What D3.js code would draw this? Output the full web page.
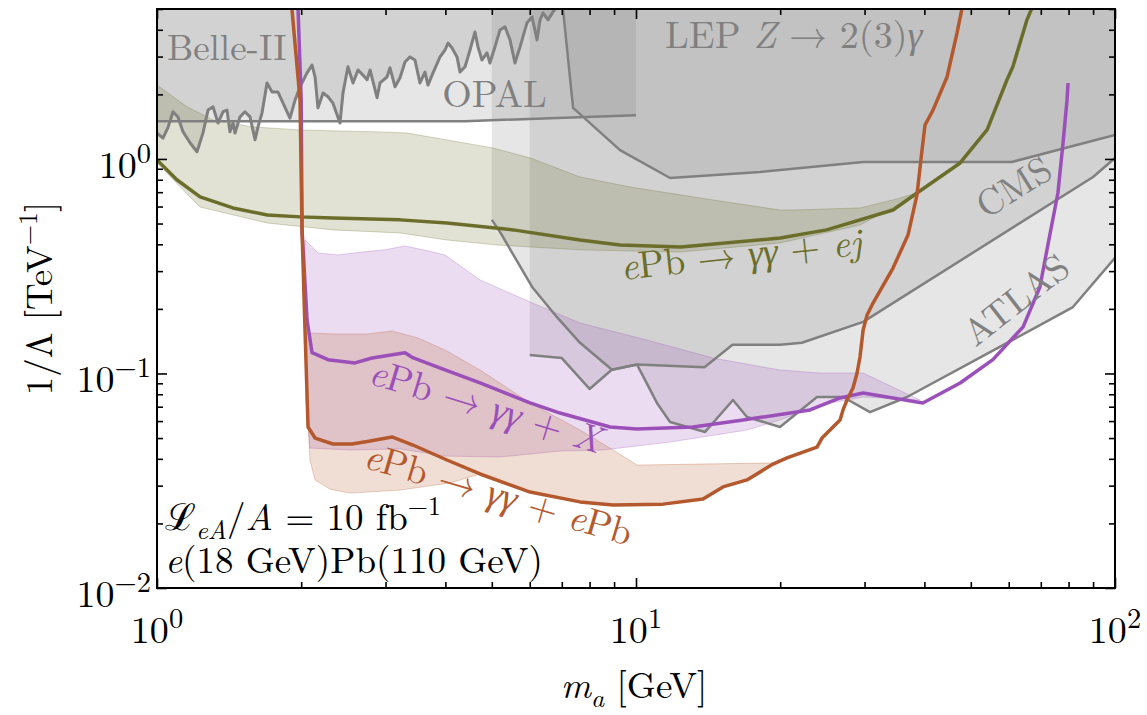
<!DOCTYPE html>
<html>
<head>
<meta charset="utf-8">
<script src="https://cdn.jsdelivr.net/npm/d3@7"></script>
<style>
  body { margin: 0; background: #fff; }
</style>
</head>
<body>
<div id="chart"></div>
<script>
// ---- data (m_a in GeV, 1/Lambda in TeV^-1) ----
const belleM = [1.0, 1.029, 1.054, 1.080, 1.106, 1.133, 1.172, 1.212, 1.247, 1.278, 1.309, 1.341, 1.374, 1.400, 1.420, 1.441, 1.455, 1.490, 1.526, 1.564, 1.602, 1.625, 1.657, 1.697, 1.739, 1.789, 1.833, 1.895, 1.942, 1.989, 2.057, 2.107, 2.138, 2.168, 2.222, 2.275, 2.330, 2.410, 2.445, 2.504, 2.566, 2.628, 2.692, 2.745, 2.785, 2.880, 2.921, 3.021, 3.065, 3.140, 3.216, 3.294, 3.375, 3.456, 3.540, 3.626, 3.679, 3.769, 3.898, 3.993, 4.051, 4.130, 4.230, 4.292, 4.396, 4.503, 4.611, 4.679, 4.768, 4.884, 4.955, 5.077, 5.200, 5.327, 5.457, 5.589, 5.727, 5.922, 6.067, 6.215, 6.305, 6.396, 6.552, 6.711, 6.94];
const belleV = [1.32, 1.25, 1.40, 1.66, 1.57, 1.34, 1.19, 1.08, 1.32, 1.69, 1.75, 1.47, 1.66, 1.69, 1.34, 1.47, 1.32, 1.57, 1.66, 1.57, 1.23, 1.41, 1.64, 2.26, 2.05, 2.05, 1.82, 1.55, 1.88, 2.17, 2.52, 2.74, 2.41, 1.73, 2.03, 1.95, 1.82, 1.47, 2.03, 2.69, 2.26, 2.60, 2.46, 2.34, 2.60, 1.93, 2.26, 2.41, 2.66, 2.17, 2.39, 2.83, 2.99, 2.89, 2.26, 2.54, 2.21, 2.52, 2.99, 3.22, 3.47, 3.29, 2.99, 2.54, 2.69, 3.22, 3.91, 3.33, 2.89, 3.12, 2.80, 3.33, 3.99, 4.13, 3.59, 2.80, 3.33, 4.31, 4.59, 3.59, 4.45, 4.79, 4.45, 4.85, 5.3];

const opalM = [1, 4.4, 10];
const opalV = [1.5, 1.5, 1.6];

const lepM = [7.04, 7.39, 9.26, 11.78, 18.15, 29.8, 60.9, 100];
const lepV = [5.0, 1.73, 1.10, 0.815, 0.87, 0.968, 0.968, 1.294];

const atlasM = [5.0, 5.2, 6.07, 6.84, 7.64, 8.91, 10.05, 11.06, 11.78, 13.94, 15.94, 17.05, 19.98, 23.87, 27.05, 30.8, 36.8, 69.7, 81.7, 100];
const atlasV = [0.52, 0.457, 0.253, 0.183, 0.139, 0.104, 0.110, 0.0729, 0.0594, 0.0534, 0.0752, 0.0627, 0.0563, 0.0777, 0.0777, 0.0661, 0.0777, 0.168, 0.204, 0.346];

const cmsM = [6.0, 7.0, 8.0, 8.9, 10.05, 13.9, 15.9, 20.0, 22.2, 29.8, 90.0, 100];
const cmsV = [0.122, 0.118, 0.0847, 0.104, 0.110, 0.107, 0.136, 0.136, 0.139, 0.174, 0.824, 1.01];

// ePb -> gamma gamma + ej
const ejM = [1, 1.10, 1.23, 1.44, 1.70, 1.99, 2.33, 3.22, 4.03, 5.54, 7.64, 9.26, 12.4, 20.0, 25.0, 34.4, 38.6, 47.5, 54.1, 59.5, 61.2, 65.5, 67.1];
const ejV = [0.99, 0.80, 0.665, 0.591, 0.548, 0.537, 0.531, 0.52, 0.503, 0.467, 0.419, 0.397, 0.389, 0.428, 0.467, 0.578, 0.694, 0.958, 1.37, 2.34, 2.69, 4.45, 5.06];
const ejUpM = [1, 1.155, 1.309, 1.586, 1.989, 2.921, 3.326, 4.03, 5.03, 6.01, 7.64, 9.72, 14.48, 19.98, 21.27, 29.35, 34.4, 38.6];
const ejUpV = [2.21, 1.75, 1.52, 1.41, 1.365, 1.336, 1.322, 1.226, 1.125, 1.011, 0.824, 0.740, 0.644, 0.578, 0.578, 0.591, 0.644, 0.694];
const ejLoM = [1, 1.229, 1.697, 2.33, 3.216, 4.03, 5.13, 7.64, 12.36, 19.98, 29.35, 38.6];
const ejLoV = [0.958, 0.597, 0.503, 0.467, 0.452, 0.419, 0.397, 0.377, 0.368, 0.406, 0.492, 0.68];

// ePb -> gamma gamma + X
const xM = [1.970, 2.0, 2.008, 2.057, 2.107, 2.275, 2.591, 2.811, 3.294, 3.407, 3.993, 4.725, 6.01, 6.94, 8.83, 10.05, 13.15, 16.73, 23.09, 26.67, 29.8, 39.7, 47.5, 55.6, 64.3, 69.7, 72.1, 76.0, 77.9, 79.4, 79.8];
const xV = [5.0, 1.88, 0.467, 0.178, 0.125, 0.116, 0.112, 0.118, 0.125, 0.119, 0.104, 0.0903, 0.0729, 0.0654, 0.0563, 0.0551, 0.0563, 0.0607, 0.0676, 0.0769, 0.0811, 0.0729, 0.0903, 0.116, 0.165, 0.253, 0.377, 0.694, 1.19, 1.88, 2.26];
const xUpM = [2.037, 2.168, 2.387, 2.679, 2.992, 3.294, 3.593, 3.993, 4.725, 6.01, 7.64, 10.54, 14.48, 19.98, 24.22, 29.8, 36.09, 39.16];
const xUpV = [0.419, 0.3645, 0.3569, 0.368, 0.377, 0.393, 0.377, 0.3569, 0.2729, 0.2154, 0.1719, 0.1433, 0.118, 0.1038, 0.1005, 0.1005, 0.082, 0.0752];
const xLoM = [2.047, 2.086, 2.529, 3.216, 3.993, 5.20, 6.94, 8.53, 11.78, 17.05, 19.98, 24.22, 29.8, 39.16];
const xLoV = [0.0752, 0.0449, 0.0440, 0.0445, 0.0412, 0.0408, 0.0435, 0.0440, 0.0479, 0.0545, 0.0607, 0.0713, 0.0777, 0.0752];

// ePb -> gamma gamma + ePb
const pbM = [1.913, 1.989, 2.008, 2.037, 2.067, 2.138, 2.330, 2.554, 2.785, 3.094, 3.422, 4.03, 4.725, 6.01, 7.64, 8.954, 11.39, 13.80, 15.19, 17.05, 19.32, 20.66, 23.87, 24.45, 25.78, 26.67, 27.05, 27.57, 28.38, 28.94, 29.35, 29.8, 30.37, 31.10, 34.4, 36.97, 38.6, 39.55, 40.12, 41.69, 44.6, 46.8, 47.9];
const pbV = [5.0, 1.88, 0.467, 0.160, 0.0563, 0.0500, 0.0469, 0.0469, 0.0484, 0.0506, 0.0464, 0.0395, 0.0340, 0.0280, 0.0252, 0.0244, 0.0246, 0.0260, 0.0296, 0.0319, 0.0378, 0.0404, 0.0454, 0.0500, 0.0563, 0.0607, 0.0676, 0.0752, 0.0856, 0.1005, 0.1194, 0.1595, 0.1874, 0.2086, 0.310, 0.442, 0.680, 1.10, 1.44, 1.69, 2.41, 3.87, 5.0];
const pbUpM = [2.047, 2.353, 2.757, 3.094, 3.506, 3.993, 4.725, 6.01, 7.64, 8.954, 10.05, 13.60, 19.51];
const pbUpV = [0.1545, 0.1528, 0.1528, 0.1578, 0.1464, 0.1287, 0.1038, 0.0729, 0.0545, 0.0440, 0.0374, 0.0378, 0.0383];
const pbLoM = [2.057, 2.086, 2.138, 2.297, 2.529, 3.216, 4.09, 4.725, 6.01, 7.64, 8.954, 11.39, 13.80, 15.19, 17.05, 19.32];
const pbLoV = [0.0752, 0.0395, 0.0319, 0.0289, 0.0277, 0.0286, 0.0309, 0.0340, 0.0280, 0.0252, 0.0244, 0.0246, 0.0260, 0.0296, 0.0319, 0.0378];

const xMajor = [1, 10, 100];
const xMinor = [2, 3, 4, 5, 6, 7, 8, 9, 20, 30, 40, 50, 60, 70, 80, 90];
const yMajor = [0.01, 0.1, 1];
const yMinor = [0.02, 0.03, 0.04, 0.05, 0.06, 0.07, 0.08, 0.09, 0.2, 0.3, 0.4, 0.5, 0.6, 0.7, 0.8, 0.9, 2, 3, 4, 5];
const xTickExp = ["0", "1", "2"];
const yTickExp = ["\u22122", "\u22121", "0"];

// ---- layout ----
const width = 1147, height = 715;
const pLeft = 157, pRight = 1115, pTop = 9, pBottom = 588;
const yTop = 6; // above the frame, clipped
const serif = '"Latin Modern Roman", "Liberation Serif", serif';

const gray = "#808080";
const olive = "#6b6e2a";
const purple = "#9b50b9";
const orange = "#b4592d";

const x = d3.scaleLog().domain([1, 100]).range([pLeft, pRight]);
const y = d3.scaleLog().domain([0.01, 5]).range([pBottom, pTop]);

const svg = d3.select("#chart").append("svg")
  .attr("width", width)
  .attr("height", height);

svg.append("defs").append("clipPath").attr("id", "plotclip")
  .append("rect")
  .attr("x", pLeft).attr("y", pTop)
  .attr("width", pRight - pLeft).attr("height", pBottom - pTop);

const plot = svg.append("g").attr("clip-path", "url(#plotclip)");

const zip = (m, v) => m.map((d, i) => [d, v[i]]);
const line = d3.line().x(d => x(d[0])).y(d => y(d[1]));

// region excluded from the boundary up to the top of the plot
function topRegion(m, v) {
  const pts = zip(m, v);
  pts.push([m[m.length - 1], yTop]);
  pts.push([m[0], yTop]);
  return line(pts) + "Z";
}
function band(upM, upV, loM, loV) {
  const pts = zip(upM, upV).concat(zip(loM, loV).reverse());
  return line(pts) + "Z";
}

// gray excluded regions
[[atlasM, atlasV], [cmsM, cmsV], [lepM, lepV], [opalM, opalV], [belleM, belleV]].forEach(r => {
  plot.append("path")
    .attr("d", topRegion(r[0], r[1]))
    .attr("fill", gray)
    .attr("fill-opacity", 0.2);
});

// projection bands
[[ejUpM, ejUpV, ejLoM, ejLoV, olive], [xUpM, xUpV, xLoM, xLoV, purple], [pbUpM, pbUpV, pbLoM, pbLoV, orange]].forEach(b => {
  plot.append("path")
    .attr("d", band(b[0], b[1], b[2], b[3]))
    .attr("fill", b[4])
    .attr("fill-opacity", 0.2)
    .attr("stroke", b[4])
    .attr("stroke-opacity", 0.35)
    .attr("stroke-width", 0.8);
});

// gray boundary lines
[[opalM, opalV, 2.5], [lepM, lepV, 2.5], [atlasM, atlasV, 2.5], [cmsM, cmsV, 2.5], [belleM, belleV, 3]].forEach(l => {
  plot.append("path")
    .attr("d", line(zip(l[0], l[1])))
    .attr("fill", "none")
    .attr("stroke", gray)
    .attr("stroke-width", l[2])
    .attr("stroke-linejoin", "round");
});

// projections
[[ejM, ejV, olive], [xM, xV, purple], [pbM, pbV, orange]].forEach(l => {
  plot.append("path")
    .attr("d", line(zip(l[0], l[1])))
    .attr("fill", "none")
    .attr("stroke", l[2])
    .attr("stroke-width", 3.5)
    .attr("stroke-linejoin", "round");
});

// ---- text helpers ----
function rich(sel, parts, size, supScale) {
  const k = supScale || 0.7;
  let off = 0;
  parts.forEach(p => {
    const t = p[0], st = p[1] || "";
    const target = st.includes("sub") ? size * 0.25 : st.includes("sup") ? -size * 0.4 : 0;
    const ts = sel.append("tspan").text(t).attr("dy", target - off);
    if (st.startsWith("i")) ts.style("font-style", "italic");
    if (target !== 0) ts.style("font-size", (size * k) + "px");
    off = target;
  });
}
function newText(g, size) {
  return g.append("text")
    .style("font-family", serif)
    .style("font-size", size + "px");
}
function label(m, v, parts, color, size, angle, anchor) {
  const t = newText(svg, size)
    .attr("transform", `translate(${x(m)},${y(v)}) rotate(${angle || 0})`)
    .attr("fill", color)
    .attr("text-anchor", anchor || "start");
  rich(t, parts, size);
  return t;
}

// region labels
label(1.049, 2.894, [["Belle-II"]], gray, 37);
label(3.94, 1.748, [["OPAL"]], gray, 38);
label(11.5, 3.29, [["LEP "], ["Z", "i"], [" \u2192 2(3)"], ["\u03b3", "i"]], gray, 38);
label(63.5, 0.66, [["CMS"]], gray, 37, -32, "middle").attr("dy", "0.35em");
label(64.5, 0.198, [["ATLAS"]], gray, 37, -38, "middle").attr("dy", "0.35em");

// projection labels
label(9.35, 0.273, [["e", "i"], ["Pb \u2192 "], ["\u03b3\u03b3", "i"], [" + "], ["ej", "i"]], olive, 38, -6);
label(2.745, 0.0903, [["e", "i"], ["Pb \u2192 "], ["\u03b3\u03b3", "i"], [" + "], ["X", "i"]], purple, 38, 17);
label(2.679, 0.0366, [["e", "i"], ["Pb \u2192 "], ["\u03b3\u03b3", "i"], [" + "], ["e", "i"], ["Pb"]], orange, 38, 16.5);

// run conditions
label(1.039, 0.01864, [["\u2112"], ["eA", "isub"], ["/"], ["A", "i"], [" = 10 fb"], ["\u22121", "sup"]], "#000", 37);
label(1.039, 0.01175, [["e", "i"], ["(18 GeV)Pb(110 GeV)"]], "#000", 37);

// ---- axes: inward ticks on all four sides ----
function ticks(gen, vals, len, tr) {
  svg.append("g").attr("transform", tr)
    .call(gen.tickValues(vals).tickSizeInner(-len).tickSizeOuter(0).tickFormat(""))
    .call(g => g.select(".domain").remove())
    .selectAll("line").attr("stroke", "#000").attr("stroke-width", 1.6);
}
ticks(d3.axisBottom(x), xMajor, 10, `translate(0,${pBottom})`);
ticks(d3.axisBottom(x), xMinor, 6, `translate(0,${pBottom})`);
ticks(d3.axisTop(x), xMajor, 10, `translate(0,${pTop})`);
ticks(d3.axisTop(x), xMinor, 6, `translate(0,${pTop})`);
ticks(d3.axisLeft(y), yMajor, 10, `translate(${pLeft},0)`);
ticks(d3.axisLeft(y), yMinor, 6, `translate(${pLeft},0)`);
ticks(d3.axisRight(y), yMajor, 10, `translate(${pRight},0)`);
ticks(d3.axisRight(y), yMinor, 6, `translate(${pRight},0)`);

svg.append("rect")
  .attr("x", pLeft).attr("y", pTop)
  .attr("width", pRight - pLeft).attr("height", pBottom - pTop)
  .attr("fill", "none")
  .attr("stroke", "#000")
  .attr("stroke-width", 2);

// tick labels 10^n
xMajor.forEach((v, i) => {
  const t = newText(svg, 38)
    .attr("x", x(v)).attr("y", pBottom + 55)
    .attr("text-anchor", "middle");
  rich(t, [["10"], [xTickExp[i], "sup"]], 38, 0.75);
});
yMajor.forEach((v, i) => {
  const t = newText(svg, 38)
    .attr("x", pLeft - 6).attr("y", y(v) + 19)
    .attr("text-anchor", "end");
  rich(t, [["10"], [yTickExp[i], "sup"]], 38, 0.75);
});

// axis titles
const xt = newText(svg, 37)
  .attr("x", (pLeft + pRight) / 2 - 2).attr("y", 698)
  .attr("text-anchor", "middle");
rich(xt, [["m", "i"], ["a", "isub"], [" [GeV]"]], 37);

const yt = newText(svg, 37)
  .attr("transform", `translate(52,${(pTop + pBottom) / 2}) rotate(-90)`)
  .attr("text-anchor", "middle");
rich(yt, [["1/\u039b [TeV"], ["\u22121", "sup"], ["]"]], 37);
</script>
</body>
</html>
